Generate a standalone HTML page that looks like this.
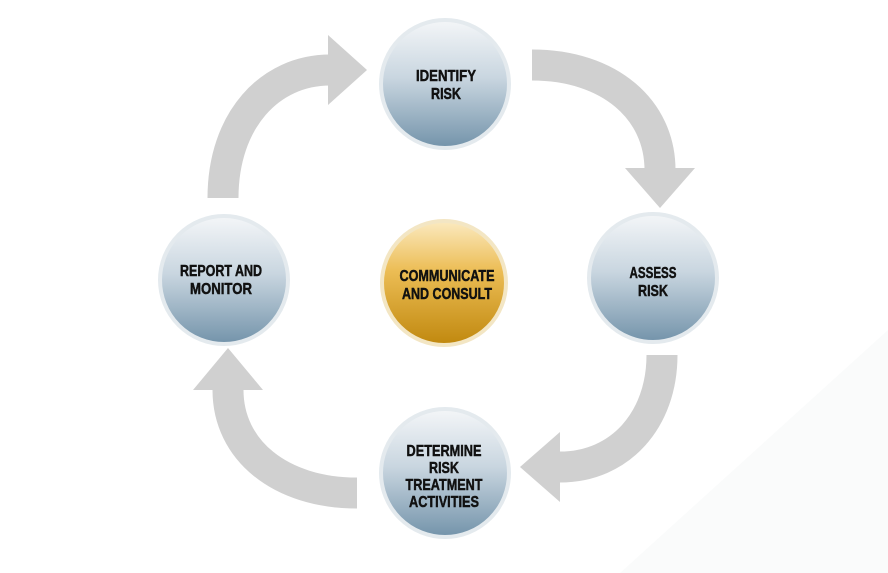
<!DOCTYPE html>
<html><head><meta charset="utf-8"><style>
html,body{margin:0;padding:0;background:#fff;}
svg{display:block}
text{font-family:"Liberation Sans",sans-serif;font-weight:bold;font-size:16px;fill:#111;stroke:#111;stroke-width:0.5;text-anchor:middle;}
</style></head><body>
<svg width="888" height="573" viewBox="0 0 888 573">
<defs>
<linearGradient id="b" x1="0" y1="0" x2="0" y2="1">
<stop offset="0" stop-color="#f4f6f8"/><stop offset="0.45" stop-color="#c9d6e0"/><stop offset="1" stop-color="#7393aa"/>
</linearGradient>
<linearGradient id="g" x1="0" y1="0" x2="0" y2="1">
<stop offset="0" stop-color="#fbeac0"/><stop offset="0.4" stop-color="#ecbd55"/><stop offset="1" stop-color="#c0880e"/>
</linearGradient>
</defs>
<polygon points="620,573 888,330 888,573" fill="#fafbfb"/>
<g fill="none" stroke="#d0d0d0" stroke-width="31">
<path d="M532,65 C 610,65 660,110 660,170"/>
<path d="M662,355 C 662,420 620,467 560,467"/>
<path d="M357,493 C 280,493 228,450 228,390"/>
<path d="M223,198 C 223,120 270,70 330,70"/>
</g>
<g fill="#d0d0d0">
<polygon points="625,168 695,168 660,208"/>
<polygon points="560,432 560,502 520,467"/>
<polygon points="193,390 263,390 228,348"/>
<polygon points="328,35 328,105 367,70"/>
</g>
<g stroke="#e4eaee" stroke-width="4">
<circle cx="445" cy="84" r="64" fill="url(#b)"/>
<circle cx="653" cy="278" r="64" fill="url(#b)"/>
<circle cx="445" cy="473" r="64" fill="url(#b)"/>
<circle cx="224" cy="280" r="64" fill="url(#b)"/>
<circle cx="444" cy="283" r="62" fill="url(#g)" stroke="#f3e6c4"/>
</g>
<text x="446" y="81" textLength="60" lengthAdjust="spacingAndGlyphs">IDENTIFY</text><text x="446" y="99" textLength="30" lengthAdjust="spacingAndGlyphs">RISK</text>
<text x="653" y="278" textLength="47" lengthAdjust="spacingAndGlyphs">ASSESS</text><text x="653" y="296" textLength="30" lengthAdjust="spacingAndGlyphs">RISK</text>
<text x="221" y="276" textLength="82" lengthAdjust="spacingAndGlyphs">REPORT AND</text><text x="221" y="294" textLength="62" lengthAdjust="spacingAndGlyphs">MONITOR</text>
<text x="447" y="281" textLength="95" lengthAdjust="spacingAndGlyphs">COMMUNICATE</text><text x="447" y="299" textLength="90" lengthAdjust="spacingAndGlyphs">AND CONSULT</text>
<text x="444" y="456" textLength="75" lengthAdjust="spacingAndGlyphs">DETERMINE</text><text x="444" y="473" textLength="30" lengthAdjust="spacingAndGlyphs">RISK</text><text x="444" y="490" textLength="77" lengthAdjust="spacingAndGlyphs">TREATMENT</text><text x="444" y="507" textLength="70" lengthAdjust="spacingAndGlyphs">ACTIVITIES</text>
</svg>
</body></html>
